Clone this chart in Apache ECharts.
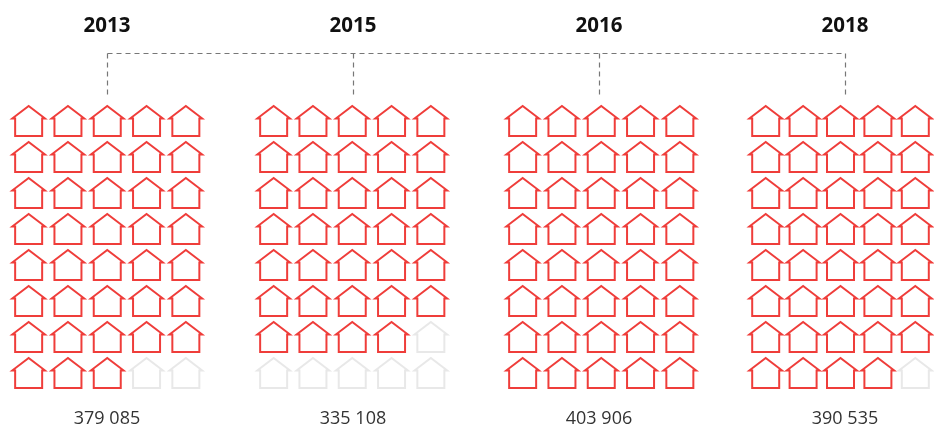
<!DOCTYPE html>
<html>
<head>
<meta charset="utf-8">
<style>html,body{margin:0;background:#fff}#box{width:934px;height:425px}</style>
<script src="https://cdn.jsdelivr.net/npm/echarts@6/dist/echarts.min.js"></script>
</head>
<body>
<div id="box"></div>
<script>
var years = ['2013', '2015', '2016', '2018'];
var totals = ['379 085', '335 108', '403 906', '390 535'];
var filledHouses = [38, 34, 40, 39];
var columns = ['1', '2', '3', '4', '5'];
var rows = ['1', '2', '3', '4', '5', '6', '7', '8'];

// layout, in px
var gridLeft = [9, 254, 503, 747];
var labelX = [107, 353, 599, 845];
var housePath = 'path://M0,12.5 L3,12.5 L3,30 L30,30 L30,12.5 L33,12.5 L16.5,0 Z';

var myChart = echarts.init(document.getElementById('box'));

var grids = [], xAxes = [], yAxes = [], series = [], titles = [];
years.forEach(function (year, g) {
    grids.push({ left: gridLeft[g], top: 103, width: 196.5, height: 288 });
    xAxes.push({ gridIndex: g, type: 'category', data: columns, show: false });
    yAxes.push({ gridIndex: g, type: 'category', data: rows, inverse: true, show: false });

    var red = [], grey = [];
    rows.forEach(function (r, i) {
        columns.forEach(function (c, j) {
            (i * columns.length + j < filledHouses[g] ? red : grey).push([c, r]);
        });
    });
    [[red, '#ef3d3a'], [grey, '#e8e8e8']].forEach(function (s) {
        series.push({
            type: 'scatter',
            xAxisIndex: g,
            yAxisIndex: g,
            data: s[0],
            symbol: housePath,
            symbolSize: [33, 30],
            silent: true,
            itemStyle: { color: 'transparent', borderColor: s[1], borderWidth: 1.9, opacity: 1 }
        });
    });

    titles.push({
        text: year, left: labelX[g], top: 16, padding: 0, textAlign: 'center',
        textStyle: { fontFamily: 'Open Sans', fontSize: 20.5, fontWeight: 'bold', color: '#111' }
    });
    titles.push({
        text: totals[g], left: labelX[g], top: 410, padding: 0, textAlign: 'center',
        textStyle: { fontFamily: 'Open Sans', fontSize: 18, fontWeight: 'normal', color: '#333' }
    });
});

// dashed connector over the years
var dash = { stroke: '#777', lineWidth: 1.2, lineDash: [5, 4], fill: null };
var lines = labelX.map(function (x) {
    return { type: 'polyline', silent: true, shape: { points: [[x + 0.5, 53.5], [x + 0.5, 95]] }, style: dash };
});
lines.push({
    type: 'polyline', silent: true,
    shape: { points: [[labelX[0] + 0.5, 53.5], [labelX[3] + 0.5, 53.5]] },
    style: dash
});

var option = {
    animation: false,
    backgroundColor: '#fff',
    title: titles,
    grid: grids,
    xAxis: xAxes,
    yAxis: yAxes,
    series: series,
    graphic: lines
};

myChart.setOption(option);
</script>
</body>
</html>
